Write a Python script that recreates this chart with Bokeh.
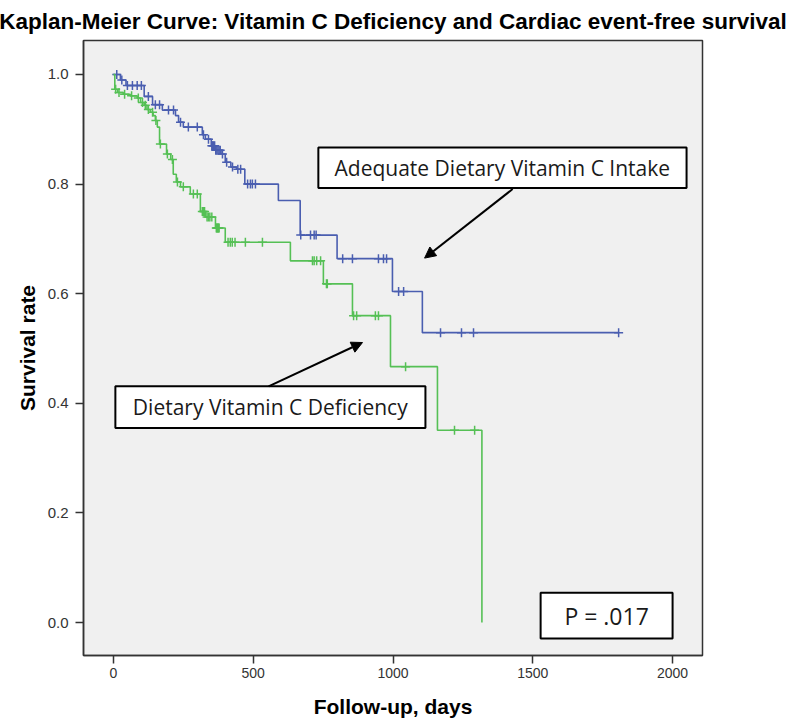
import numpy as np
from bokeh.plotting import figure
from bokeh.models import BoxAnnotation, Label, Arrow, NormalHead, FixedTicker, NumeralTickFormatter
from bokeh.embed import file_html
from bokeh.resources import INLINE

# ---------------- data ----------------
title_text = "Kaplan-Meier Curve: Vitamin C Deficiency and Cardiac event-free survival"
x_ticks = [0, 500, 1000, 1500, 2000]
y_ticks = [0.0, 0.2, 0.4, 0.6, 0.8, 1.0]

# Adequate Dietary Vitamin C Intake (blue)
blue_event_days = [25, 45, 110, 140, 175, 222, 233, 250, 318, 329, 350, 365, 385, 400, 420, 440,
                   470, 590, 668, 800, 998, 1105]
blue_event_surv = [0.99, 0.98, 0.96, 0.945, 0.935, 0.925, 0.913, 0.904, 0.89, 0.882, 0.87, 0.862,
                   0.855, 0.84, 0.831, 0.827, 0.80, 0.77, 0.707, 0.664, 0.604, 0.529]
blue_last_day = 1807
blue_censor_days = [12, 30, 50, 68, 85, 100, 125, 150, 165, 197, 215, 240, 268, 300, 322, 340,
                    352, 355, 358, 362, 366, 370, 374, 378, 382, 390, 405, 426, 445, 455, 480,
                    490, 497, 508, 670, 705, 718, 725, 820, 855, 948, 966, 977, 1020, 1038, 1170,
                    1245, 1288, 1807]

# Dietary Vitamin C Deficiency (green)
green_event_days = [5, 15, 35, 60, 85, 97, 110, 120, 132, 142, 150, 157, 165, 190, 205, 214,
                    225, 240, 275, 311, 330, 365, 400, 633, 751, 855, 991, 1159, 1318]
green_event_surv = [0.973, 0.967, 0.964, 0.961, 0.957, 0.949, 0.944, 0.936, 0.931, 0.925, 0.916,
                    0.904, 0.873, 0.855, 0.845, 0.818, 0.804, 0.795, 0.782, 0.75, 0.74, 0.72,
                    0.694, 0.66, 0.618, 0.56, 0.467, 0.351, 0.0]
green_censor_days = [8, 20, 40, 65, 89, 104, 114, 125, 140, 152, 168, 193, 211, 229, 250, 286,
                     300, 318, 322, 326, 335, 340, 345, 352, 368, 370, 372, 374, 376, 378, 410,
                     418, 425, 435, 472, 533, 712, 718, 727, 741, 762, 765, 859, 870, 937, 948,
                     1045, 1220, 1292]

label_adequate = "Adequate Dietary Vitamin C Intake"
label_deficient = "Dietary Vitamin C Deficiency"
label_p = "P = .017"

BLUE = "#4a5eb0"
GREEN = "#55c055"

# ---------------- figure ----------------
p = figure(width=800, height=724, x_range=(-107, 2107), y_range=(-0.06, 1.062),
           output_backend="svg", toolbar_location=None,
           title=title_text)
p.min_border_left = 83
p.min_border_right = 98
p.min_border_top = 38
p.min_border_bottom = 69
p.background_fill_color = "#f0f0f0"
p.border_fill_color = "white"
p.outline_line_color = "#333333"
p.outline_line_width = 1.5
p.xgrid.visible = False
p.ygrid.visible = False

p.title.align = "center"
p.title.text_font = "Liberation Sans"
p.title.text_font_size = "22.5px"
p.title.text_font_style = "bold"
p.title.text_color = "black"
p.title.text_line_height = 1.0
p.title.standoff = 13

for ax in (p.xaxis[0], p.yaxis[0]):
    ax.axis_line_color = "#333333"
    ax.axis_line_width = 1.5
    ax.major_tick_line_color = "#333333"
    ax.major_tick_line_width = 1.5
    ax.major_tick_out = 8
    ax.major_tick_in = 0
    ax.minor_tick_line_color = None
    ax.major_label_text_font = "Liberation Sans"
    ax.major_label_text_color = "#333333"
    ax.axis_label_text_font = "Liberation Sans"
    ax.axis_label_text_font_style = "bold"
    ax.axis_label_text_color = "black"

p.xaxis.major_label_text_font_size = "14px"
p.yaxis.major_label_text_font_size = "15px"
p.xaxis.axis_label_text_font_size = "21px"
p.yaxis.axis_label_text_font_size = "21px"
p.xaxis.ticker = FixedTicker(ticks=x_ticks)
p.yaxis.ticker = FixedTicker(ticks=y_ticks)
p.yaxis.formatter = NumeralTickFormatter(format="0.0")
p.xaxis.axis_label = "Follow-up, days"
p.yaxis.axis_label = "Survival rate"
p.xaxis.major_label_standoff = 4
p.yaxis.major_label_standoff = 7
p.xaxis.axis_label_standoff = 14
p.yaxis.axis_label_standoff = 6


def step_lookup(xs, ys, pts):
    xs = np.asarray(xs, dtype=float)
    ys = np.asarray(ys, dtype=float)
    idx = np.searchsorted(xs, np.asarray(pts, dtype=float), side="right") - 1
    return ys[np.clip(idx, 0, len(ys) - 1)]


# blue curve
bx = [0] + blue_event_days + [blue_last_day]
by = [1.0] + blue_event_surv + [blue_event_surv[-1]]
p.step(bx, by, mode="after", line_color=BLUE, line_width=1.6)
p.scatter(blue_censor_days, step_lookup(bx, by, blue_censor_days), marker="cross", size=9,
          line_color=BLUE, line_width=1.5)

# green curve
gx = [0] + green_event_days
gy = [1.0] + green_event_surv
p.step(gx, gy, mode="after", line_color=GREEN, line_width=1.6)
p.scatter(green_censor_days, step_lookup(gx, gy, green_censor_days), marker="cross", size=9,
          line_color=GREEN, line_width=1.5)

# annotations
box_style = dict(fill_color="white", fill_alpha=1.0, line_color="black", line_alpha=1.0,
                 line_width=2)
p.add_layout(BoxAnnotation(left=733, right=2050, bottom=0.793, top=0.867, **box_style))
p.add_layout(Label(x=1391, y=0.830, text=label_adequate, text_align="center",
                   text_baseline="middle", text_font="Open Sans", text_font_size="21px",
                   text_color="#1a1a1a"))
p.add_layout(Arrow(end=NormalHead(size=11, fill_color="black", line_color="black"),
                   x_start=1428, y_start=0.791, x_end=1113, y_end=0.665,
                   line_color="black", line_width=2))

p.add_layout(BoxAnnotation(left=7, right=1116, bottom=0.355, top=0.431, **box_style))
p.add_layout(Label(x=561, y=0.393, text=label_deficient, text_align="center",
                   text_baseline="middle", text_font="Open Sans", text_font_size="21px",
                   text_color="#1a1a1a"))
p.add_layout(Arrow(end=NormalHead(size=11, fill_color="black", line_color="black"),
                   x_start=555, y_start=0.431, x_end=891, y_end=0.511,
                   line_color="black", line_width=2))

p.add_layout(BoxAnnotation(left=1528, right=2000, bottom=-0.029, top=0.0545, **box_style))
p.add_layout(Label(x=1764, y=0.0128, text=label_p, text_align="center",
                   text_baseline="middle", text_font="Open Sans", text_font_size="23px",
                   text_color="#1a1a1a"))

open("out.html", "w").write(file_html(p, INLINE))
